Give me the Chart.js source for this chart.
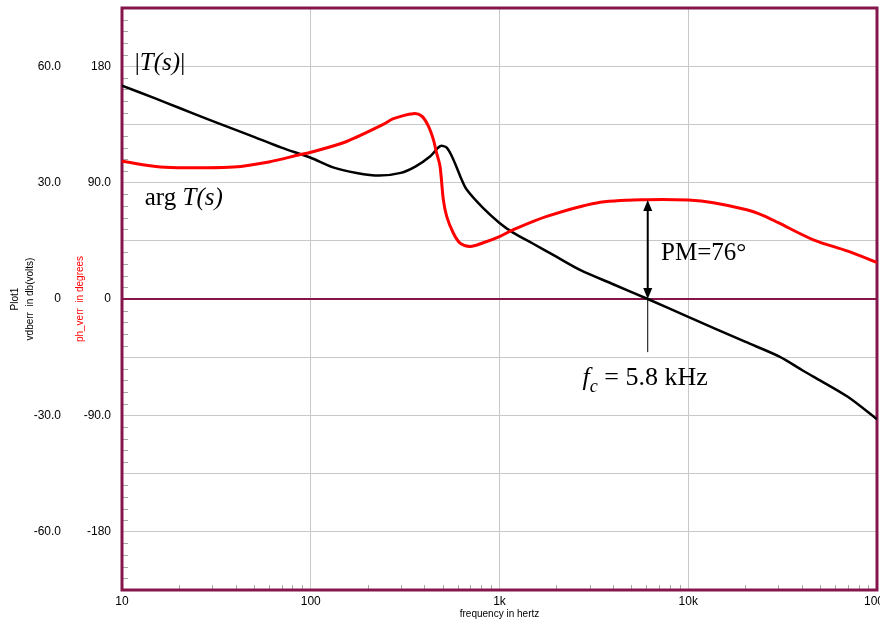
<!DOCTYPE html>
<html>
<head>
<meta charset="utf-8">
<script src="https://cdn.jsdelivr.net/npm/chart.js@4.4.1/dist/chart.umd.min.js"></script>
<style>
  html, body { margin: 0; padding: 0; background: #fff; }
  canvas { display: block; }
</style>
</head>
<body>
<canvas id="bodeChart" width="880" height="624"></canvas>
<script>
// |T(s)| in dB
const magFreq = [10, 15, 20, 30, 40, 50, 70, 100, 130, 175, 230, 300, 360, 430, 485, 525, 570, 620, 670, 820, 1000, 1180, 1500, 2000, 2670, 4000, 6100, 10000, 20000, 30600, 40000, 46000, 70000, 100000];
const magDb   = [55.0, 51.7, 49.3, 45.9, 43.6, 41.8, 39.0, 36.4, 34.0, 32.5, 31.8, 32.5, 34.2, 36.8, 39.4, 39.0, 35.9, 31.6, 28.2, 23.4, 19.6, 17.1, 14.3, 10.9, 7.5, 3.8, 0, -4.6, -11.0, -14.9, -18.3, -20.0, -25.2, -31.0];

// arg T(s) in degrees
const phFreq = [10, 16, 25, 39, 60, 88, 100, 150, 242, 274, 349, 387, 420, 446, 464, 484, 504, 525, 569, 618, 700, 820, 1000, 1180, 1780, 3270, 6100, 10000, 13600, 20400, 25000, 30000, 46000, 70000, 100000];
const phDeg  = [106.5, 102, 101.5, 102, 106, 111.7, 113.5, 121, 135, 139.4, 143.3, 141.5, 133.7, 123.4, 113, 102.7, 76.8, 63.9, 51, 43.2, 40.6, 43.5, 48.3, 53.5, 63.9, 74.3, 76.8, 76.5, 74.5, 69, 64.5, 59, 45.8, 37, 28.3];

const freqTicks  = [10, 100, 1000, 10000, 100000];
const freqLabels = ['10', '100', '1k', '10k', '100k'];

const crossFreq = 6100;     // where |T| crosses 0 dB
const phaseMargin = 76.5;

const frameColor = '#84164c';
const gridColor = '#c8c8c8';

// spice style numbers: 60.0, 90.0, 180, 0
function spiceNum(v) {
  if (v === 0) return '0';
  return Number(v).toPrecision(3);
}

// no extra room for the end labels, the frame sits where the padding says
function noEdgePad(scale) {
  scale.paddingTop = 0;
  scale.paddingBottom = 0;
  scale.paddingLeft = 0;
  scale.paddingRight = 0;
}

const framePlugin = {
  id: 'frame',
  beforeDatasetsDraw(chart) {
    const {ctx, chartArea: a, scales} = chart;
    const x = scales.x, y = scales.y;
    ctx.save();
    ctx.strokeStyle = '#a6a6a6';
    ctx.lineWidth = 1;
    // minor ticks on the left border
    for (let v = -72; v <= 72; v += 3) {
      if (v % 15 === 0) continue;
      const py = Math.round(y.getPixelForValue(v)) + 0.5;
      ctx.beginPath();
      ctx.moveTo(a.left, py);
      ctx.lineTo(a.left + 6, py);
      ctx.stroke();
    }
    // minor ticks on the bottom border
    for (let d = 10; d < 100000; d *= 10) {
      for (let m = 2; m <= 9; m++) {
        const px = Math.round(x.getPixelForValue(d * m)) + 0.5;
        ctx.beginPath();
        ctx.moveTo(px, a.bottom - 5);
        ctx.lineTo(px, a.bottom);
        ctx.stroke();
      }
    }
    // zero line
    const y0 = y.getPixelForValue(0);
    ctx.strokeStyle = frameColor;
    ctx.lineWidth = 2;
    ctx.beginPath();
    ctx.moveTo(a.left, y0);
    ctx.lineTo(a.right, y0);
    ctx.stroke();
    // frame
    ctx.lineWidth = 3;
    ctx.strokeRect(a.left, a.top, a.right - a.left, a.bottom - a.top);
    ctx.restore();
  }
};

// draws text made of upright / italic / subscript pieces
function richText(ctx, parts, x, y, size) {
  let cx = x;
  parts.forEach(function(p) {
    const fs = p.sub ? size * 0.7 : size;
    ctx.font = (p.it ? 'italic ' : '') + fs + 'px "Liberation Serif", "Times New Roman", serif';
    ctx.fillText(p.t, cx, p.sub ? y + size * 0.25 : y);
    cx += ctx.measureText(p.t).width;
  });
}

const notePlugin = {
  id: 'notes',
  afterDatasetsDraw(chart) {
    const {ctx, scales} = chart;
    const x = scales.x, y = scales.y, yp = scales.yPh;
    ctx.save();
    ctx.fillStyle = '#000';
    ctx.strokeStyle = '#000';
    ctx.textBaseline = 'alphabetic';
    ctx.textAlign = 'left';

    // phase margin arrow
    const ax = x.getPixelForValue(crossFreq);
    const top = yp.getPixelForValue(phaseMargin);
    const bot = yp.getPixelForValue(0);
    ctx.lineWidth = 2;
    ctx.beginPath();
    ctx.moveTo(ax, top + 8);
    ctx.lineTo(ax, bot - 8);
    ctx.stroke();
    ctx.beginPath();
    ctx.moveTo(ax, top);
    ctx.lineTo(ax - 4.5, top + 11);
    ctx.lineTo(ax + 4.5, top + 11);
    ctx.closePath();
    ctx.fill();
    ctx.beginPath();
    ctx.moveTo(ax, bot);
    ctx.lineTo(ax - 4.5, bot - 11);
    ctx.lineTo(ax + 4.5, bot - 11);
    ctx.closePath();
    ctx.fill();
    // pointer down to the fc label
    ctx.lineWidth = 1;
    ctx.beginPath();
    ctx.moveTo(ax, bot);
    ctx.lineTo(ax, y.getPixelForValue(-13.7));
    ctx.stroke();

    const fs = 25;
    richText(ctx, [{t: '|'}, {t: 'T(s)', it: true}, {t: '|'}],
      x.getPixelForValue(11.7), y.getPixelForValue(59.0), fs);
    richText(ctx, [{t: 'arg '}, {t: 'T(s)', it: true}],
      x.getPixelForValue(13.2), y.getPixelForValue(24.2), fs);
    richText(ctx, [{t: 'PM=76°'}],
      x.getPixelForValue(7180), y.getPixelForValue(10.0), fs);
    richText(ctx, [{t: 'f', it: true}, {t: 'c', it: true, sub: true}, {t: ' = 5.8 kHz'}],
      x.getPixelForValue(2750), y.getPixelForValue(-22.2), 26);
    ctx.restore();
  }
};

const tickFont = {family: '"Liberation Sans", Arial, sans-serif', size: 12};
const titleFont = {family: '"Liberation Sans", Arial, sans-serif', size: 10};

const data = {
  datasets: [
    {
      label: 'ph_verr',
      data: phFreq.map((f, i) => ({x: f, y: phDeg[i]})),
      yAxisID: 'yPh',
      borderColor: '#ff0000',
      borderWidth: 3,
      pointRadius: 0,
      tension: 0.3,
      fill: false,
      order: 0
    },
    {
      label: 'vdberr',
      data: magFreq.map((f, i) => ({x: f, y: magDb[i]})),
      yAxisID: 'y',
      borderColor: '#000000',
      borderWidth: 2.5,
      pointRadius: 0,
      tension: 0.3,
      fill: false,
      order: 1
    }
  ]
};

const config = {
  type: 'line',
  data,
  options: {
    responsive: false,
    animation: false,
    layout: {padding: {top: 8, right: 3, left: 0, bottom: 0}},
    plugins: {legend: {display: false}, tooltip: {enabled: false}},
    scales: {
      x: {
        type: 'logarithmic',
        min: 10,
        max: 100000,
        afterBuildTicks: function(scale) {
          scale.ticks = freqTicks.map(v => ({value: v}));
        },
        afterFit: function(scale) { scale.height = 34; noEdgePad(scale); },
        grid: {color: gridColor, drawTicks: false},
        border: {display: false},
        ticks: {
          autoSkip: false, maxRotation: 0, padding: 4,
          color: '#000', font: tickFont,
          callback: function(v) {
            const i = freqTicks.indexOf(v);
            return i >= 0 ? freqLabels[i] : '';
          }
        },
        title: {display: true, text: 'frequency in hertz', color: '#000', font: titleFont, padding: {top: 0, bottom: 4}}
      },
      y: {
        position: 'left',
        weight: 2,
        min: -75,
        max: 75,
        afterFit: function(scale) { scale.width = 68; noEdgePad(scale); },
        grid: {color: gridColor, drawTicks: false},
        border: {display: false},
        ticks: {
          stepSize: 15, padding: 7, color: '#000', font: tickFont,
          callback: v => (v % 30 === 0 ? spiceNum(v) : '')
        },
        title: {
          display: true, text: ['Plot1', 'vdberr  in db(volts)'], color: '#000',
          font: {family: titleFont.family, size: 10, lineHeight: 1.5}, padding: {top: 7.5, bottom: 0}
        }
      },
      yPh: {
        position: 'left',
        weight: 1,
        min: -225,
        max: 225,
        afterFit: function(scale) { scale.width = 54; noEdgePad(scale); },
        grid: {display: false, drawTicks: false},
        border: {display: false},
        ticks: {
          stepSize: 45, padding: 11, color: '#000', font: tickFont,
          callback: v => (v % 90 === 0 ? spiceNum(v) : '')
        },
        title: {
          display: true, text: 'ph_verr  in degrees', color: '#ff0000',
          font: {family: titleFont.family, size: 10, lineHeight: 1.2}, padding: {top: 6, bottom: 0}
        }
      }
    }
  },
  plugins: [framePlugin, notePlugin]
};

var bodeChart = new Chart(document.getElementById('bodeChart'), config);
</script>
</body>
</html>
